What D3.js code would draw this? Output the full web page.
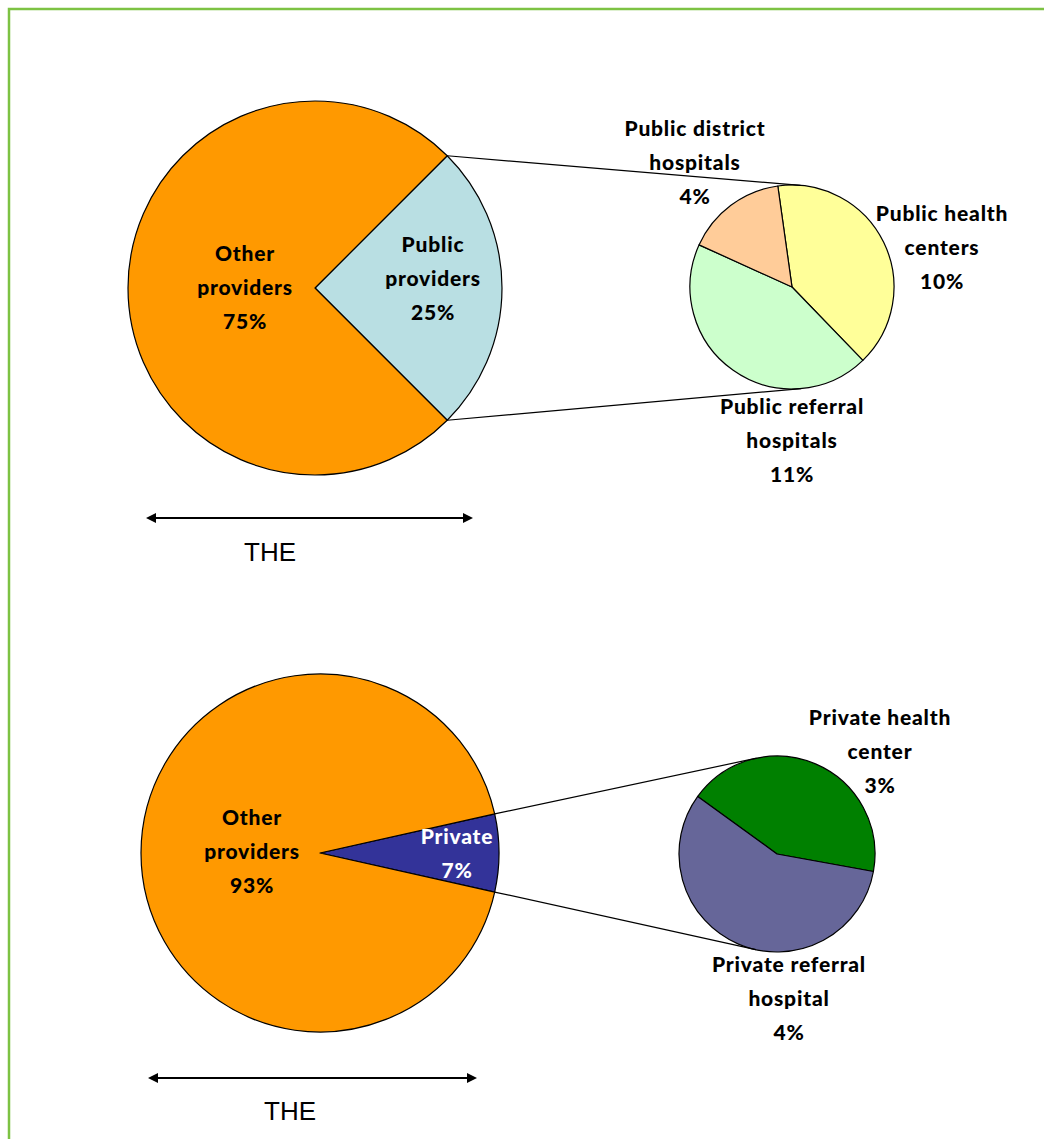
<!DOCTYPE html>
<html>
<head>
<meta charset="utf-8">
<script src="https://cdn.jsdelivr.net/npm/d3@7"></script>
<style>
  html, body { margin: 0; padding: 0; background: #fff; }
  svg { display: block; }
  .lbl { font-family: "Lato", "Open Sans", sans-serif; font-weight: 900; font-size: 21px; letter-spacing: 0.8px; text-anchor: middle; }
  .the { font-family: "Liberation Sans", Arial, sans-serif; font-size: 26px; text-anchor: middle; }
</style>
</head>
<body>
<script>
// Share of total health expenditure (THE) by provider type
const publicMain = ["Public providers", "Other providers"];
const publicMainValues = [25, 75];
const publicMainColors = ["#b9dfe3", "#ff9900"];

const publicSub = ["Public health centers", "Public referral hospitals", "Public district hospitals"];
const publicSubValues = [10, 11, 4];
const publicSubColors = ["#ffff99", "#ccffcc", "#ffcc99"];

const privateMain = ["Private", "Other providers"];
const privateMainValues = [7, 93];
const privateMainColors = ["#333399", "#ff9900"];

const privateSub = ["Private health center", "Private referral hospital"];
const privateSubValues = [3, 4];
const privateSubColors = ["#008000", "#666699"];

const W = 1044, H = 1139;
const svg = d3.select("body").append("svg").attr("width", W).attr("height", H);

// frame
svg.append("path")
  .attr("d", `M9,${H + 10} V9 H${W + 10}`)
  .attr("fill", "none").attr("stroke", "#7dc243").attr("stroke-width", 2.5);

const deg = Math.PI / 180;

function drawPie(cx, cy, r, values, colors, startDeg) {
  const total = d3.sum(values);
  const pie = d3.pie().sort(null)
    .startAngle(startDeg * deg)
    .endAngle(startDeg * deg + 2 * Math.PI);
  const arcs = pie(values);
  const arc = d3.arc().innerRadius(0).outerRadius(r);
  const g = svg.append("g").attr("transform", `translate(${cx},${cy})`);
  g.selectAll("path").data(arcs).join("path")
    .attr("d", arc)
    .attr("fill", (d, i) => colors[i])
    .attr("stroke", "#000").attr("stroke-width", 1.2).attr("stroke-linejoin", "round");
  return { cx, cy, r, arcs, total };
}

// point on a pie rim at a d3 pie angle (clockwise from 12 o'clock)
function rimPoint(p, a) {
  return [p.cx + p.r * Math.sin(a), p.cy - p.r * Math.cos(a)];
}

// tangent points from external point P to a circle
function tangents(P, c) {
  const dx = P[0] - c.cx, dy = P[1] - c.cy;
  const d = Math.hypot(dx, dy);
  const th = Math.atan2(dy, dx);
  const al = Math.acos(c.r / d);
  const t1 = [c.cx + c.r * Math.cos(th + al), c.cy + c.r * Math.sin(th + al)];
  const t2 = [c.cx + c.r * Math.cos(th - al), c.cy + c.r * Math.sin(th - al)];
  return t1[1] < t2[1] ? [t1, t2] : [t2, t1];
}

function connect(main, sub) {
  const s = main.arcs[0];
  const pTop = rimPoint(main, s.startAngle);
  const pBot = rimPoint(main, s.endAngle);
  const upper = tangents(pTop, sub)[0];
  const lower = tangents(pBot, sub)[1];
  const line = d3.line();
  svg.append("path").attr("d", line([pTop, upper])).attr("stroke", "#000").attr("stroke-width", 1.2).attr("fill", "none");
  svg.append("path").attr("d", line([pBot, lower])).attr("stroke", "#000").attr("stroke-width", 1.2).attr("fill", "none");
}

function label(x, y, lines, color) {
  const t = svg.append("text").attr("class", "lbl").attr("x", x).attr("y", y)
    .attr("fill", color || "#000");
  lines.forEach((s, i) => {
    t.append("tspan").attr("x", x).attr("dy", i === 0 ? 0 : 34).text(s);
  });
}

function arrow(x1, x2, y) {
  svg.append("line").attr("x1", x1 + 6).attr("x2", x2 - 6).attr("y1", y).attr("y2", y)
    .attr("stroke", "#000").attr("stroke-width", 2);
  svg.append("path").attr("d", `M${x1},${y} L${x1 + 10},${y - 5} L${x1 + 10},${y + 5} Z`).attr("fill", "#000");
  svg.append("path").attr("d", `M${x2},${y} L${x2 - 10},${y - 5} L${x2 - 10},${y + 5} Z`).attr("fill", "#000");
}

// ---- public providers ----
const pubStart = 90 - publicMainValues[0] / d3.sum(publicMainValues) * 180;
const pm = drawPie(315, 288, 187, publicMainValues, publicMainColors, pubStart);
const ps = drawPie(792, 287, 102, publicSubValues, publicSubColors, -8);
connect(pm, ps);

label(245, 261, ["Other", "providers", publicMainValues[1] + "%"]);
label(433, 252, ["Public", "providers", publicMainValues[0] + "%"]);
label(695, 136, ["Public district", "hospitals", publicSubValues[2] + "%"]);
label(942, 221, ["Public health", "centers", publicSubValues[0] + "%"]);
label(792, 414, ["Public referral", "hospitals", publicSubValues[1] + "%"]);

arrow(146, 473, 518);
svg.append("text").attr("class", "the").attr("x", 270).attr("y", 561).text("THE");

// ---- private providers ----
const privStart = 90 - privateMainValues[0] / d3.sum(privateMainValues) * 180;
const vm = drawPie(320, 853, 179, privateMainValues, privateMainColors, privStart);
const vs = drawPie(777, 854, 98, privateSubValues, privateSubColors, -54);
connect(vm, vs);

label(252, 825, ["Other", "providers", privateMainValues[1] + "%"]);
label(457, 844, ["Private", privateMainValues[0] + "%"], "#fff");
label(880, 725, ["Private health", "center", privateSubValues[0] + "%"]);
label(789, 972, ["Private referral", "hospital", privateSubValues[1] + "%"]);

arrow(148, 477, 1078);
svg.append("text").attr("class", "the").attr("x", 290).attr("y", 1120).text("THE");
</script>
</body>
</html>
